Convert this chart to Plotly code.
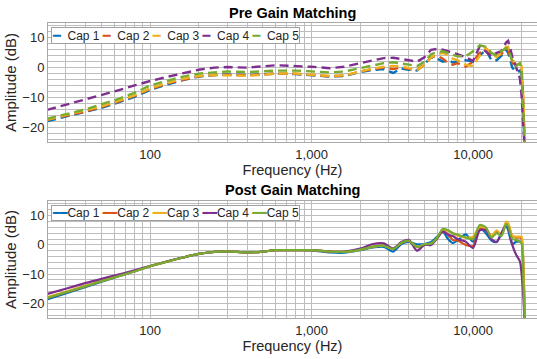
import plotly.graph_objects as go
import math

# ---------------- data ----------------
freq = [23, 30, 40, 50, 60, 80, 100, 130, 160, 200, 250, 300, 400, 500, 600, 800,
        1000, 1300, 1600, 2000, 2400, 2800, 3200, 3600, 4000, 4500, 5000, 5500,
        6000, 6500, 7000, 7500, 8000, 9000, 10000, 11000, 12000, 13000, 14000,
        15000, 16000, 16500, 17500, 18500, 19500, 20000, 20500, 21000]

cap_names = ["Cap 1", "Cap 2", "Cap 3", "Cap 4", "Cap 5"]
colors = ["#0072BD", "#D95319", "#EDB120", "#7E2F8E", "#77AC30"]

pre_cap1 = [-18, -16.5, -15, -13.5, -12.2, -9.8, -7.5, -5.5, -4.2, -3, -2.5, -2.3, -2.5, -2.2, -2, -2.2,
            -2.5, -3, -2.8, -1.5, -0.8, -0.5, -1.8, -0.3, -0.7, -1, 1.2, 3.5,
            3, 2, 2.5, 1.8, 2.1, 2.5, 2, 4, 6, 2.5, 2.5,
            4, 6, 5, 0, -1.5, -1, -2, -14, -30]
pre_cap2 = [-17.6, -16.2, -14.7, -13.2, -11.9, -9.5, -7.2, -5.2, -4, -2.9, -2.5, -2.4, -2.6, -2.3, -2, -2.1,
            -2.4, -2.9, -2.7, -1.3, -0.5, 0, -0.5, 0, -0.4, -0.8, 1, 3.5,
            4, 3, 1.5, 1, 1.5, 0.3, 2, 5, 6.5, 4, 4,
            4.5, 6.5, 6, 1.5, 1, 1, 0, -12, -30]
pre_cap3 = [-17.5, -16, -14.5, -13, -11.7, -9.3, -7, -5, -3.8, -2.8, -2.5, -2.5, -2.7, -2.4, -2, -2,
            -2.3, -2.8, -2.6, -1.2, -0.3, 0.3, 0.6, 0.4, -0.2, -0.8, 1, 3.5,
            4.5, 5, 4, 3, 2.5, 1, 0.5, 4, 6.5, 5, 3.5,
            5, 7, 7, 2.5, 1.5, 1.5, 0.5, -10, -30]
pre_cap4 = [-14.2, -12.5, -10.8, -9.3, -8, -6, -4.5, -3, -1.8, -0.7, 0, 0.2, 0, 0.4, 0.8, 0.5,
            0.3, -0.2, 0.3, 1.5, 2.5, 3.2, 3.3, 3, 2.5, 2, 3.5, 6,
            6.3, 6, 5.5, 5, 4.5, 3.5, 2.2, 7.2, 5.5, 3.8, 5,
            5.5, 8.4, 9, 3.8, -0.1, -3.5, -9.7, -21, -30]
pre_cap5 = [-17.2, -15.6, -14, -12.3, -11, -8.5, -6, -4.3, -3, -2, -1.5, -1.3, -1.5, -1.2, -1, -1,
            -1.2, -1.6, -1.3, -0.2, 0.8, 1.5, 1.8, 1.5, 1, 0.5, 2, 4.5,
            5.2, 5.5, 5, 4.3, 3.8, 3.8, 5.5, 7.5, 7, 5, 4,
            5.5, 6.5, 6.5, 2, 0.5, 1.5, -1, -14, -30]

post_cap1 = [-18.6, -16.6, -14.4, -12.6, -11.2, -9.1, -7.3, -5.6, -4.3, -3.1, -2.4, -2.2, -2.6, -2.3, -1.8, -1.8,
             -1.9, -2.6, -2.7, -1.8, -0.9, -0.7, -2.3, 0.3, 1, 0.2, 0.3, 1,
             2.8, 4.5, 2, 0.6, 1.5, 3.6, 1.1, 5.8, 4, 1.5, 1,
             4, 6.8, 5, 0.2, 1.1, 1.1, 1.1, -8, -30]
post_cap2 = [-18.2, -16.3, -14.1, -12.4, -11.1, -9, -7.3, -5.6, -4.3, -3.1, -2.4, -2.2, -2.6, -2.3, -1.8, -1.8,
             -1.8, -2.3, -2.4, -1.6, -0.6, -0.3, -1.4, 0.7, 1.3, -0.8, 0.1, 0.3,
             2.3, 5, 3.5, 1.7, 1.5, 0, -0.4, 5.5, 5.5, 3, 4.5,
             3.5, 7, 7, 3, 2.5, 2.5, 2, -8, -30]
post_cap3 = [-17.9, -16, -13.9, -12.3, -11, -9, -7.3, -5.6, -4.3, -3.1, -2.4, -2.2, -2.6, -2.3, -1.8, -1.8,
             -1.8, -2.3, -2.4, -1.6, -0.6, -0.3, -1.4, 0.8, 1.5, -0.8, 0.2, 0.5,
             2.3, 5.3, 4.8, 4, 3.2, 2.5, 2.8, 6.2, 5.5, 3, 5,
             3.5, 7.9, 7.5, 3, 2.8, 2.8, 2.8, -6, -30]
post_cap4 = [-16.8, -15, -13, -11.6, -10.5, -8.7, -7.2, -5.5, -4.3, -3.1, -2.4, -2.2, -2.6, -2.3, -1.8, -1.8,
             -1.8, -2.3, -2.3, -1.3, 0.3, 0.5, -1.2, 1, 1.7, -2, 0, 0,
             2.3, 4.5, 3.5, 3, 2, 1.1, -1.1, 5, 5, 2, 1,
             4, 6.8, 6, 0, -3.4, -5.6, -10, -18, -30]
post_cap5 = [-18.1, -16.2, -14.1, -12.4, -11.1, -9, -7.3, -5.6, -4.3, -3.1, -2.4, -2.2, -2.6, -2.3, -1.8, -1.8,
             -1.8, -2.3, -2.4, -1.6, -0.6, -0.3, -1.4, 0.7, 1.4, -0.7, 0.2, 0.4,
             2.5, 5.5, 5, 4, 3.5, 2.5, 2, 6.8, 6, 2.5, 4,
             3, 7, 6.5, 2, 1.7, 1, 0.5, -12, -30]

pre_series = [pre_cap1, pre_cap2, pre_cap3, pre_cap4, pre_cap5]
post_series = [post_cap1, post_cap2, post_cap3, post_cap4, post_cap5]

title_pre = "Pre Gain Matching"
title_post = "Post Gain Matching"
x_title = "Frequency (Hz)"
y_title = "Amplitude (dB)"
x_ticks_labeled = {100: "100", 1000: "1,000", 10000: "10,000"}
y_tickvals = [-20, -10, 0, 10]

# ---------------- figure ----------------
FONT = "Liberation Sans, Arial, sans-serif"
GRID = "#bdbdbd"
fig = go.Figure()

for name, col, ys in zip(cap_names, colors, pre_series):
    fig.add_trace(go.Scatter(x=freq, y=ys, mode="lines", name=name, xaxis="x", yaxis="y",
                             line=dict(color=col, width=2.4, dash="9px,5px"), showlegend=False))
for name, col, ys in zip(cap_names, colors, post_series):
    fig.add_trace(go.Scatter(x=freq, y=ys, mode="lines", name=name, xaxis="x2", yaxis="y2",
                             line=dict(color=col, width=2.2, shape="spline", smoothing=0.7),
                             showlegend=False))

grid_vals = []
for dec in [10, 100, 1000, 10000]:
    for k in range(1, 10):
        grid_vals.append(dec * k)
grid_text = [x_ticks_labeled.get(v, "") for v in grid_vals]

xrange = [math.log10(23.3), math.log10(24900)]

def xaxis_cfg(anchor):
    return dict(type="log", range=xrange, anchor=anchor, tickmode="array",
                tickvals=grid_vals, ticktext=grid_text, showgrid=True, gridcolor=GRID,
                gridwidth=1, ticks="", showline=True, linecolor="#a8a8a8", mirror=True,
                zeroline=False, tickfont=dict(family=FONT, size=13, color="#262626"),
                title=dict(text=x_title, font=dict(family=FONT, size=14.5, color="#262626"), standoff=3))

def yaxis_cfg(anchor, domain):
    return dict(domain=domain, anchor=anchor, range=[-25, 15], tickmode="array",
                tickvals=y_tickvals, showgrid=True, gridcolor=GRID, gridwidth=1,
                minor=dict(dtick=2, tick0=0, showgrid=True, gridcolor=GRID, gridwidth=1),
                ticks="", showline=True, linecolor="#a8a8a8", mirror=False, zeroline=False,
                tickfont=dict(family=FONT, size=13, color="#262626"),
                title=dict(text=y_title, font=dict(family=FONT, size=15, color="#262626"), standoff=2))

H = 359 - 23 - 41
fig.update_layout(
    width=537, height=359, margin=dict(l=48, r=0, t=23, b=41),
    paper_bgcolor="white", plot_bgcolor="white",
    xaxis=xaxis_cfg("y"), yaxis=yaxis_cfg("x", [(318 - 142) / H, 1]),
    xaxis2=xaxis_cfg("y2"), yaxis2=yaxis_cfg("x2", [0, (318 - 201) / H]),
    showlegend=False,
)

NB = "\u00a0"

def legend_text(symbol, size, sep, joiner):
    parts = []
    for name, col in zip(cap_names, colors):
        parts.append(f"<span style='color:{col};font-family:DejaVu Sans;font-size:{size}px'>{symbol}</span>{sep}{name}")
    return joiner.join(parts)

fig.add_annotation(xref="x domain", yref="y domain", x=0.006, y=0.97, xanchor="left", yanchor="top",
                   text=legend_text("━", 13, NB * 2, NB), showarrow=False, align="left",
                   font=dict(family=FONT, size=12, color="#262626"),
                   bgcolor="white", bordercolor="#a0a0a0", borderwidth=1, borderpad=0)
fig.add_annotation(xref="x2 domain", yref="y2 domain", x=0.006, y=0.97, xanchor="left", yanchor="top",
                   text=legend_text("━━", 12, "", NB), showarrow=False, align="left",
                   font=dict(family=FONT, size=12, color="#262626"),
                   bgcolor="white", bordercolor="#a0a0a0", borderwidth=1, borderpad=0)

fig.add_annotation(xref="x domain", yref="paper", x=0.5, y=(318 - 13) / H, yanchor="middle",
                   text=f"<b>{title_pre}</b>", showarrow=False,
                   font=dict(family=FONT, size=14.5, color="black"))
fig.add_annotation(xref="x2 domain", yref="paper", x=0.5, y=(318 - 190) / H, yanchor="middle",
                   text=f"<b>{title_post}</b>", showarrow=False,
                   font=dict(family=FONT, size=14.5, color="black"))

fig.write_html("out.html")
